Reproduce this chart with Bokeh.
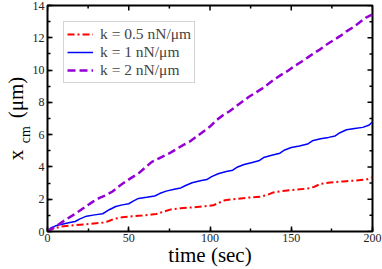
import math
from bokeh.plotting import figure
from bokeh.models import (Range1d, SingleIntervalTicker, FixedTicker, LinearAxis,
                          CustomJSTickFormatter)
from bokeh.embed import file_html
from bokeh.resources import INLINE

# ---- data ----
t_red = [0, 3, 8, 14, 20, 27, 34, 37, 41, 46, 52, 58, 64, 67, 71, 76, 82, 90, 97, 102,
         105, 109, 116, 124, 131, 135, 139, 144, 152, 160, 164, 168, 174, 182, 190, 197, 200]
x_red = [0, 0.15, 0.3, 0.36, 0.42, 0.48, 0.55, 0.62, 0.78, 0.88, 0.94, 0.99, 1.05, 1.08,
         1.22, 1.37, 1.44, 1.5, 1.57, 1.62, 1.76, 1.93, 2.02, 2.1, 2.16, 2.26, 2.42, 2.5,
         2.58, 2.66, 2.76, 2.95, 3.04, 3.1, 3.16, 3.24, 3.36]

t_blue = [0, 2, 5, 9, 13, 17, 20, 24, 29, 34, 38, 42, 46, 50, 53, 56, 61, 66, 69, 73, 78,
          82, 85, 89, 94, 98, 101, 105, 110, 114, 117, 121, 126, 130, 133, 138, 143, 146,
          150, 155, 160, 163, 168, 173, 177, 180, 184, 189, 194, 198, 200]
x_blue = [0, 0.22, 0.35, 0.45, 0.54, 0.62, 0.78, 0.95, 1.03, 1.1, 1.35, 1.55, 1.65, 1.72,
          1.9, 2.05, 2.12, 2.2, 2.35, 2.5, 2.62, 2.7, 2.85, 3.02, 3.15, 3.22, 3.4, 3.58,
          3.72, 3.8, 4.0, 4.15, 4.28, 4.38, 4.58, 4.72, 4.85, 5.05, 5.2, 5.3, 5.42, 5.62,
          5.75, 5.83, 5.92, 6.12, 6.3, 6.38, 6.45, 6.6, 6.8]

t_purple = [0, 3, 7, 11, 15, 20, 24, 28, 32, 36, 40, 44, 48, 52, 56, 60, 64, 68, 72, 76,
            80, 84, 88, 92, 96, 100, 104, 108, 112, 116, 120, 124, 128, 132, 136, 140, 144,
            148, 152, 156, 160, 164, 168, 172, 176, 180, 184, 188, 192, 196, 200]
x_purple = [0, 0.2, 0.45, 0.72, 0.97, 1.3, 1.58, 1.85, 2.08, 2.25, 2.48, 2.8, 3.09, 3.35,
            3.6, 3.95, 4.3, 4.5, 4.7, 4.9, 5.15, 5.38, 5.6, 5.9, 6.2, 6.5, 6.9, 7.2, 7.45,
            7.75, 8.05, 8.35, 8.6, 8.85, 9.15, 9.45, 9.72, 9.96, 10.25, 10.5, 10.77, 11.05,
            11.3, 11.6, 11.85, 12.1, 12.4, 12.65, 12.95, 13.25, 13.45]

labels = ["k = 0.5 nN/\u03bcm", "k = 1 nN/\u03bcm", "k = 2 nN/\u03bcm"]
x_major = [0, 50, 100, 150, 200]
x_minor = [25, 75, 125, 175]
y_major = [0, 2, 4, 6, 8, 10, 12, 14]
y_minor = [1, 3, 5, 7, 9, 11, 13]
X_MAX = 200
Y_MAX = 14
x_title = "time (sec)"
y_title = "x" + "\u00a0" * 6 + "(\u03bcm)"   # main part of the y title
y_sub = "cm"                                 # subscript of x
SUB_AT = 6                                   # where the subscript sits along the y axis

SERIF = "Liberation Serif"

p = figure(width=382, height=269, output_backend="svg", toolbar_location=None,
           x_range=Range1d(0, X_MAX), y_range=Range1d(0, Y_MAX),
           min_border_left=41, min_border_right=10, min_border_top=5,
           min_border_bottom=33)
p.background_fill_color = "white"
p.border_fill_color = "white"
p.outline_line_color = "black"
p.outline_line_width = 2
p.grid.visible = False

p.line(t_red, x_red, color="#ff0000", line_width=2, line_dash="7 3 2 3",
       legend_label=labels[0])
p.line(t_blue, x_blue, color="#0000ff", line_width=1.5, legend_label=labels[1])
p.line(t_purple, x_purple, color="#9400d3", line_width=2.5, line_dash="8 4",
       legend_label=labels[2])

# inward ticks on the top and right edges
p.ray(x=x_major, y=[Y_MAX] * len(x_major), length=5, length_units="screen",
      angle=-math.pi / 2, line_color="black", line_width=1.5)
p.ray(x=x_minor, y=[Y_MAX] * len(x_minor), length=3, length_units="screen",
      angle=-math.pi / 2, line_color="black", line_width=1.5)
p.ray(x=[X_MAX] * len(y_major), y=y_major, length=5, length_units="screen",
      angle=math.pi, line_color="black", line_width=1.5)
p.ray(x=[X_MAX] * len(y_minor), y=y_minor, length=3, length_units="screen",
      angle=math.pi, line_color="black", line_width=1.5)

for ax, interval in ((p.xaxis[0], 50), (p.yaxis[0], 2)):
    ax.ticker = SingleIntervalTicker(interval=interval, num_minor_ticks=2)
    ax.axis_line_color = None
    ax.major_tick_in = 5
    ax.major_tick_out = 0
    ax.minor_tick_in = 3
    ax.minor_tick_out = 0
    ax.major_tick_line_width = 1.5
    ax.minor_tick_line_width = 1.5
    ax.major_label_text_font = SERIF
    ax.major_label_text_font_size = "12px"
    ax.major_label_text_color = "#222222"
    ax.major_label_standoff = 3

xa = p.xaxis[0]
xa.major_label_standoff = 2
xa.axis_label = x_title
xa.axis_label_text_font = SERIF
xa.axis_label_text_font_size = "21px"
xa.axis_label_text_font_style = "normal"
xa.axis_label_text_color = "black"
xa.axis_label_standoff = -2

# outer left axis: carries the subscript as its only tick label and the title
ya2 = LinearAxis(ticker=FixedTicker(ticks=[SUB_AT]),
                 formatter=CustomJSTickFormatter(code="return '%s'" % y_sub))
ya2.axis_line_color = None
ya2.major_tick_line_color = None
ya2.minor_tick_line_color = None
ya2.major_tick_in = 0
ya2.major_tick_out = 0
ya2.major_label_orientation = "parallel"
ya2.major_label_text_font = SERIF
ya2.major_label_text_font_size = "14px"
ya2.major_label_text_color = "black"
ya2.major_label_text_line_height = 1.0
ya2.major_label_standoff = -4
ya2.axis_label = y_title
ya2.axis_label_text_font = SERIF
ya2.axis_label_text_font_size = "21px"
ya2.axis_label_text_font_style = "normal"
ya2.axis_label_text_color = "black"
ya2.axis_label_text_line_height = 0.9
ya2.axis_label_standoff = -12
p.add_layout(ya2, "left")

lg = p.legend[0]
lg.location = "top_left"
lg.margin = 16
lg.padding = 3
lg.spacing = 0
lg.label_text_font = SERIF
lg.label_text_font_size = "15.5px"
lg.label_text_line_height = 0.95
lg.label_height = 16
lg.glyph_height = 16
lg.glyph_width = 26
lg.label_standoff = 7
lg.border_line_color = "#aaaaaa"
lg.border_line_width = 1
lg.background_fill_color = "white"
lg.background_fill_alpha = 1

open("out.html", "w").write(file_html(p, INLINE))
